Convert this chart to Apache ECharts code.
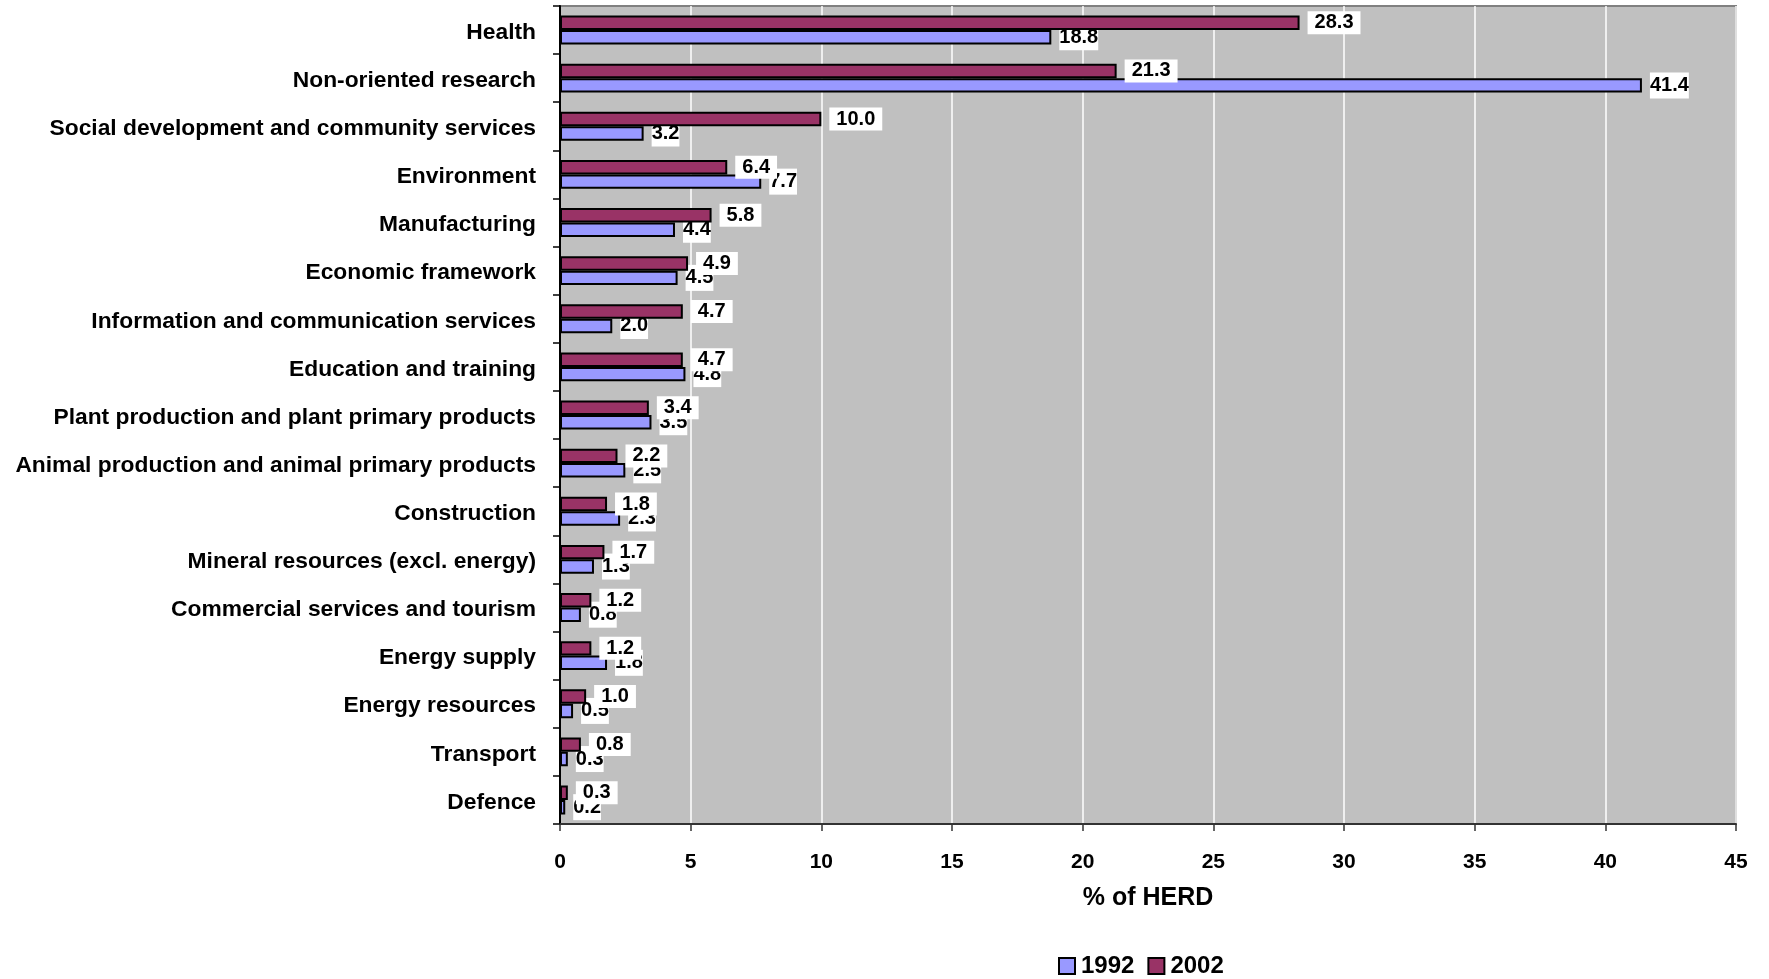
<!DOCTYPE html>
<html>
<head>
<meta charset="utf-8">
<title>% of HERD by socio-economic objective, 1992 and 2002</title>
<script src="https://cdn.jsdelivr.net/npm/echarts@6/dist/echarts.min.js"></script>
<style>
  html, body { margin: 0; padding: 0; background: #ffffff; }
  #chart { width: 1769px; height: 979px; }
</style>
</head>
<body>
<div id="chart"></div>
<script>
// Socio-economic objectives, listed top to bottom
const categories = [
  'Health',
  'Non-oriented research',
  'Social development and community services',
  'Environment',
  'Manufacturing',
  'Economic framework',
  'Information and communication services',
  'Education and training',
  'Plant production and plant primary products',
  'Animal production and animal primary products',
  'Construction',
  'Mineral resources (excl. energy)',
  'Commercial services and tourism',
  'Energy supply',
  'Energy resources',
  'Transport',
  'Defence'
];

// Share of HERD (%) per objective
const values2002 = [28.3, 21.3, 10.0, 6.4, 5.8, 4.9, 4.7, 4.7, 3.4, 2.2, 1.8, 1.7, 1.2, 1.2, 1.0, 0.8, 0.3];
const values1992 = [18.8, 41.4, 3.2, 7.7, 4.4, 4.5, 2.0, 4.8, 3.5, 2.5, 2.3, 1.3, 0.8, 1.8, 0.5, 0.3, 0.2];

// Value axis ticks
const axisMin = 0;
const axisMax = 45;
const axisStep = 5;

const FONT = 'Arial, "Liberation Sans", Helvetica, sans-serif';
const COLOR_1992 = '#9999ff';
const COLOR_2002 = '#993366';

const chart = echarts.init(document.getElementById('chart'), null, { renderer: 'canvas' });

const valueLabel = (pad, dist) => ({
  show: true,
  position: 'right',
  distance: dist,
  formatter: (p) => p.value.toFixed(1),
  color: '#000000',
  fontFamily: FONT,
  fontWeight: 'bold',
  fontSize: 20,
  lineHeight: 20,
  backgroundColor: '#ffffff',
  padding: pad
});

chart.setOption({
  animation: false,
  backgroundColor: '#ffffff',
  textStyle: { fontFamily: FONT },
  grid: {
    left: 560,
    right: 33,
    top: 6,
    bottom: 155,
    show: true,
    backgroundColor: '#c0c0c0',
    borderColor: '#808080',
    borderWidth: 2
  },
  legend: {
    data: ['1992', '2002'],
    left: 1058,
    top: 954,
    padding: 0,
    icon: 'rect',
    itemWidth: 16,
    itemHeight: 16,
    itemGap: 13,
    itemStyle: { borderColor: '#000000', borderWidth: 2 },
    textStyle: { fontFamily: FONT, fontWeight: 'bold', fontSize: 24, color: '#000000', padding: [0, 0, 0, 1] }
  },
  xAxis: {
    type: 'value',
    min: axisMin,
    max: axisMax,
    interval: axisStep,
    name: '% of HERD',
    nameLocation: 'middle',
    nameGap: 62,
    nameTextStyle: { fontFamily: FONT, fontWeight: 'bold', fontSize: 25, color: '#000000' },
    axisLine: { show: true, onZero: false, lineStyle: { color: '#333333', width: 2 } },
    axisTick: { show: true, inside: false, length: 7, lineStyle: { color: '#333333', width: 1.5 } },
    axisLabel: { margin: 28, fontFamily: FONT, fontWeight: 'bold', fontSize: 21, color: '#000000' },
    splitLine: { show: true, lineStyle: { color: '#ffffff', width: 1.5 } }
  },
  yAxis: {
    type: 'category',
    data: categories,
    inverse: true,
    axisLine: { show: true, lineStyle: { color: '#000000', width: 2 } },
    axisTick: { show: true, inside: false, length: 7, alignWithLabel: false, lineStyle: { color: '#000000', width: 1.5 } },
    axisLabel: {
      margin: 24,
      fontFamily: FONT,
      fontWeight: 'bold',
      fontSize: 22.8,
      color: '#000000',
      verticalAlign: 'top',
      lineHeight: 5
    },
    splitLine: { show: false }
  },
  series: [
    {
      name: '2002',
      type: 'bar',
      z: 3,
      data: values2002,
      barGap: '0%',
      barCategoryGap: '40%',
      itemStyle: { color: COLOR_2002, borderColor: '#000000', borderWidth: 2 },
      label: valueLabel([2, 7, 1, 7], 8)
    },
    {
      name: '1992',
      type: 'bar',
      z: 2,
      data: values1992,
      barGap: '0%',
      barCategoryGap: '40%',
      itemStyle: { color: COLOR_1992, borderColor: '#000000', borderWidth: 2 },
      label: valueLabel([3, 0, 3, 0], 8)
    }
  ]
});
</script>
</body>
</html>
